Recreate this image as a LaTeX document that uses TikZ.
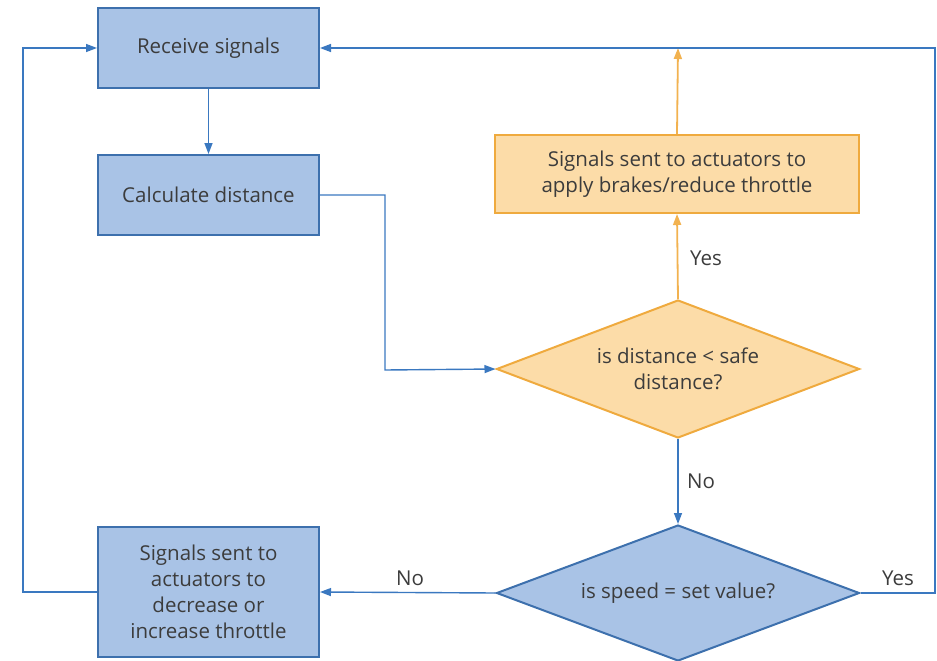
\documentclass[tikz,border=0pt]{standalone}
\usepackage{fontspec}
\setmainfont{Open Sans}
\usetikzlibrary{shapes.geometric,arrows.meta}
\definecolor{bfill}{HTML}{A9C3E6}
\definecolor{bdraw}{HTML}{3D70AD}
\definecolor{bline}{HTML}{3A78C0}
\definecolor{ofill}{HTML}{FCDCA8}
\definecolor{odraw}{HTML}{EFAA3E}
\definecolor{oline}{HTML}{F2B250}
\definecolor{txt}{HTML}{3C3C3C}
\tikzset{
  base/.style={font=\fontsize{20.5}{26}\selectfont, text=txt, align=center, inner sep=0pt},
  bbox/.style={base, rectangle, draw=bdraw, fill=bfill, line width=2pt, minimum width=221pt},
  obox/.style={base, rectangle, draw=odraw, fill=ofill, line width=2pt, minimum width=364pt, minimum height=78pt},
  bdia/.style={base, diamond, draw=bdraw, fill=bfill, line width=2pt, minimum width=363pt, minimum height=136pt, aspect=2.65},
  odia/.style={base, diamond, draw=odraw, fill=ofill, line width=2pt, minimum width=363pt, minimum height=138pt, aspect=2.65},
  bar/.style={draw=bline, line width=1.4pt, -{Triangle[length=11pt,width=8pt]}},
  oar/.style={draw=oline, line width=1.8pt, -{Triangle[length=11pt,width=8pt]}},
  lbl/.style={font=\fontsize{20.5}{26}\selectfont, text=txt, inner sep=0pt}
}
\begin{document}
\begin{tikzpicture}[x=1pt,y=-1pt]
\useasboundingbox (0,0) rectangle (937,661);
\node[bbox, minimum height=80pt] (recv) at (208.5,48) {Receive signals};
\node[bbox, minimum height=80pt] (calc) at (208.5,195) {Calculate distance};
\node[obox] (brake) at (677,174) {Signals sent to actuators to\\apply brakes/reduce throttle};
\node[odia] (d1) at (678,369) {is distance < safe\\distance?};
\node[bdia] (d2) at (678,593) {is speed = set value?};
\node[bbox, minimum height=130pt] (thr) at (208.5,592) {Signals sent to\\actuators to\\decrease or\\increase throttle};
\coordinate (cA) at (385,195);
\coordinate (cB) at (385,370);
\coordinate (lA) at (23,592);
\coordinate (lB) at (23,48);
\coordinate (rA) at (935,593);
\coordinate (rB) at (935,48);
\coordinate (top) at (678,48);
% connectors
\draw[bar] (recv.south) -- (calc.north);
\draw[bar] (calc.east) -- (cA) -- (cB) -- (d1.west);
\draw[oar] (d1.north) -- (brake.south);
\draw[oar] (brake.north) -- (top);
\draw[bar] (d1.south) -- (d2.north);
\draw[bar] (d2.west) -- (thr.east);
\draw[bar] (thr.west) -- (lA) -- (lB) -- (recv.west);
\draw[bar] (d2.east) -- (rA) -- (rB) -- (recv.east);
% labels
\node[lbl] at (706,258) {Yes};
\node[lbl] at (701,481) {No};
\node[lbl] at (410,578) {No};
\node[lbl] at (898,578) {Yes};
\end{tikzpicture}
\end{document}
